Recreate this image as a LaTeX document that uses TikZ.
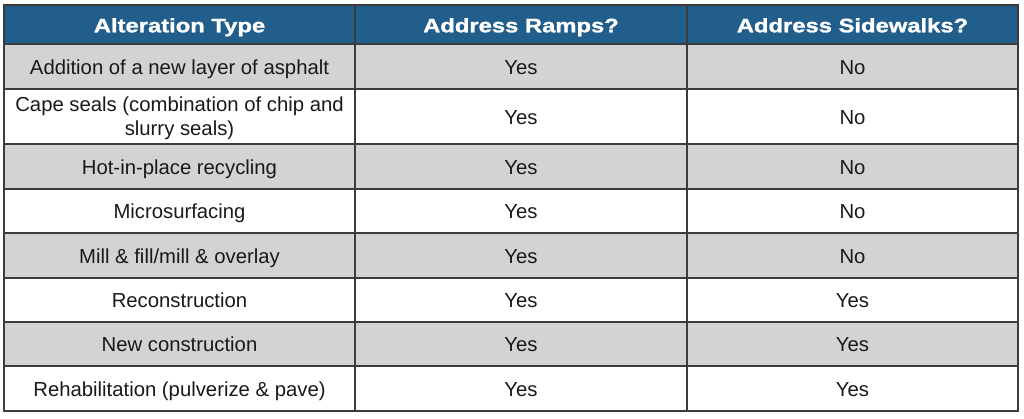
\documentclass[tikz,border=0pt]{standalone}
\usepackage{xcolor}
\usepackage{fontspec}
\setmainfont{Liberation Sans}
\newfontfamily\headfont[FakeStretch=1.22,FakeBold=1.3]{Liberation Sans}
\usepackage{tikz}

\definecolor{headblue}{RGB}{33,94,140}
\definecolor{rowgrey}{RGB}{209,211,212}
\definecolor{linegrey}{RGB}{60,60,60}

\begin{document}
\begin{tikzpicture}[x=1pt,y=-1pt,
    headtext/.style={anchor=base,text=white,font=\headfont\fontsize{19.5}{23}\selectfont\bfseries},
    celltext/.style={anchor=base,text=black!90,font=\fontsize{20.3}{24}\selectfont,align=center}]
          \useasboundingbox (0,0) rectangle (1024,418);

          % header and grey rows
          \fill[headblue] (4,5) rectangle (1018,44);
          \fill[rowgrey] (4,44) rectangle (1018,89);
          \fill[rowgrey] (4,144) rectangle (1018,189);
          \fill[rowgrey] (4,233) rectangle (1018,278);
          \fill[rowgrey] (4,322) rectangle (1018,366);

          % grid
          \draw[linegrey,line width=1.3pt] (4,5) rectangle (1018,411);
          \foreach \y in {44,89,144,189,233,278,322,366}
              \draw[linegrey,line width=1.1pt] (4,\y) -- (1018,\y);
          \draw[linegrey,line width=1.1pt] (355,5) -- (355,411);
          \draw[linegrey,line width=1.1pt] (687,5) -- (687,411);

          \node[headtext] (hType) at (179.5,32.3) {Alteration Type};
          \node[headtext] (hRamps) at (521,32.3) {Address Ramps?};
          \node[headtext] (hWalks) at (852.5,32.3) {Address Sidewalks?};

          \node[celltext] (asphalt) at (179.5,74) {Addition of a new layer of asphalt};
          % base of a two-line node is its last line
          \node[celltext] (cape) at (179.5,135.7) {Cape seals (combination of chip and\\slurry seals)};
          \node[celltext] (hotplace) at (179.5,174) {Hot-in-place recycling};
          \node[celltext] (micro) at (179.5,218.5) {Microsurfacing};
          \node[celltext] (mill) at (179.5,263) {Mill \& fill/mill \& overlay};
          \node[celltext] (recon) at (179.5,307.5) {Reconstruction};
          \node[celltext] (newcon) at (179.5,351.5) {New construction};
          \node[celltext] (rehab) at (179.5,396) {Rehabilitation (pulverize \& pave)};

          \node[celltext] (rAsphalt) at (521,74) {Yes};
          \node[celltext] (rCape) at (521,124) {Yes};
          \node[celltext] (rHot) at (521,174) {Yes};
          \node[celltext] (rMicro) at (521,218.5) {Yes};
          \node[celltext] (rMill) at (521,263) {Yes};
          \node[celltext] (rRecon) at (521,307.5) {Yes};
          \node[celltext] (rNew) at (521,351.5) {Yes};
          \node[celltext] (rRehab) at (521,396) {Yes};

          \node[celltext] (sAsphalt) at (852.5,74) {No};
          \node[celltext] (sCape) at (852.5,124) {No};
          \node[celltext] (sHot) at (852.5,174) {No};
          \node[celltext] (sMicro) at (852.5,218.5) {No};
          \node[celltext] (sMill) at (852.5,263) {No};
          \node[celltext] (sRecon) at (852.5,307.5) {Yes};
          \node[celltext] (sNew) at (852.5,351.5) {Yes};
          \node[celltext] (sRehab) at (852.5,396) {Yes};
        \end{tikzpicture}
\end{document}
